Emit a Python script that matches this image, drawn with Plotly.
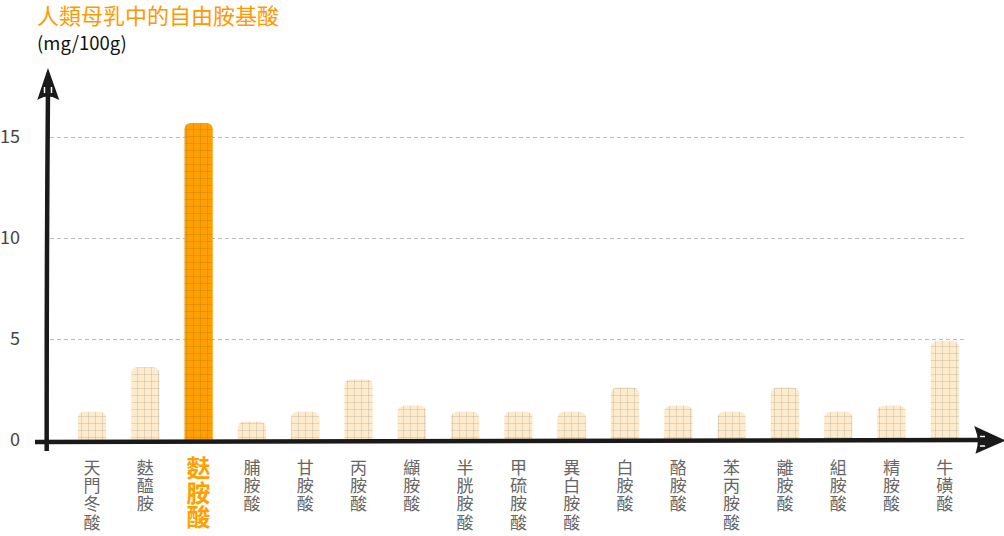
import plotly.graph_objects as go

# ---- data ----
categories = ["天門冬酸", "麩醯胺", "麩胺酸", "脯胺酸", "甘胺酸", "丙胺酸", "纈胺酸",
              "半胱胺酸", "甲硫胺酸", "異白胺酸", "白胺酸", "酪胺酸", "苯丙胺酸",
              "離胺酸", "組胺酸", "精胺酸", "牛磺酸"]
values = [1.4, 3.6, 15.7, 0.9, 1.4, 3.0, 1.7, 1.4, 1.4, 1.4, 2.6, 1.7, 1.4, 2.6, 1.4, 1.7, 4.9]
highlight = "麩胺酸"
y_ticks = [0, 5, 10, 15]
y_tick_labels = ["0", "5", "10", "15"]
title_text = "人類母乳中的自由胺基酸"
unit_text = "(mg/100g)"

OFF = 0  # page body margin removed via post_script
W, H = 1004, 536
ML, MR, MT, MB = 50, 39, 70, 91
PW, PH = W - ML - MR, H - MT - MB

ORANGE = "#FFA000"
LIGHT = "#FDEBCC"
FONT = "Noto Sans CJK TC"
XRANGE = [-0.788, 16.379]

def px(sx):
    return (sx - OFF - ML) / PW

def py(sy):
    return (H - MB - (sy - OFF)) / PH

idx = list(range(len(categories)))
hi = categories.index(highlight)
colors = [ORANGE if c == highlight else LIGHT for c in categories]
pat_fg = ["rgba(230,135,0,0.28)" if c == highlight else "rgba(245,215,165,0.09)" for c in categories]

def vertical(c, size, bold=False):
    parts = []
    for ch in c:
        t = f"<b>{ch}</b>" if bold else ch
        parts.append(f"<span style='font-size:{size}px'>{t}</span>")
    return "<br>".join(parts)

fig = go.Figure()
fig.add_trace(go.Bar(
    x=idx,
    y=values,
    marker=dict(color=colors, cornerradius=6, line=dict(width=0),
                pattern=dict(shape="+", fgcolor=pat_fg, size=7, solidity=0.08)),
    width=0.53,
    hoverinfo="skip",
))
# carrier for the highlighted-label axis
fig.add_trace(go.Scatter(x=[None], y=[None], xaxis="x2", showlegend=False, hoverinfo="skip"))

# hand-drawn axes
shapes = []
shapes.append(dict(type="path", xref="paper", yref="paper",
                   path=f"M {px(46.7)} {py(451)} Q {px(46.5)} {py(270)} {px(48)} {py(86)}",
                   line=dict(color="#1a1a1a", width=4.5)))
shapes.append(dict(type="path", xref="paper", yref="paper",
                   path=(f"M {px(48)} {py(71)} L {px(57.5)} {py(98)} Q {px(48)} {py(93)} {px(39)} {py(98)} Z"),
                   fillcolor="#1a1a1a", line=dict(color="#1a1a1a", width=2)))
for xx in (44.5, 51.5):
    shapes.append(dict(type="line", xref="paper", yref="paper",
                       x0=px(xx), y0=py(87), x1=px(xx), y1=py(93),
                       line=dict(color="white", width=1.5)))
shapes.append(dict(type="path", xref="paper", yref="paper",
                   path=f"M {px(35)} {py(442)} Q {px(500)} {py(441)} {px(980)} {py(440)}",
                   line=dict(color="#1a1a1a", width=4.5)))
shapes.append(dict(type="path", xref="paper", yref="paper",
                   path=(f"M {px(1003)} {py(440.5)} L {px(976)} {py(428)} Q {px(981)} {py(440)} {px(977)} {py(452)} Z"),
                   fillcolor="#1a1a1a", line=dict(color="#1a1a1a", width=2)))
for yy in (436.5, 446):
    shapes.append(dict(type="line", xref="paper", yref="paper",
                       x0=px(980), y0=py(yy), x1=px(985), y1=py(yy),
                       line=dict(color="white", width=1.5)))

annotations = [
    dict(text=title_text, xref="paper", yref="paper", x=px(35), y=py(-4),
         xanchor="left", yanchor="top", showarrow=False,
         font=dict(family=FONT, size=22, color="#FF9900")),
    dict(text=unit_text, xref="paper", yref="paper", x=px(35), y=py(27),
         xanchor="left", yanchor="top", showarrow=False,
         font=dict(family=FONT, size=18.5, color="#111111")),
]

fig.update_layout(
    width=W, height=H,
    margin=dict(l=ML, r=MR, t=MT, b=MB, pad=0),
    plot_bgcolor="white", paper_bgcolor="white",
    showlegend=False,
    shapes=shapes,
    annotations=annotations,
    font=dict(family=FONT),
    xaxis=dict(
        range=XRANGE, tickmode="array",
        tickvals=[i for i in idx if i != hi],
        ticktext=[vertical(c, 17) for c in categories if c != highlight],
        tickangle=0,
        tickfont=dict(family=FONT, size=14, color="#666666"),
        showgrid=False, zeroline=False, showline=False, ticks="",
        automargin=False, ticklabelstandoff=14,
    ),
    xaxis2=dict(
        overlaying="x", side="bottom", range=XRANGE, tickmode="array",
        tickvals=[hi], ticktext=[vertical(highlight, 24, bold=True)],
        tickangle=0,
        tickfont=dict(family=FONT, size=19, color=ORANGE),
        showgrid=False, zeroline=False, showline=False, ticks="",
        automargin=False, ticklabelstandoff=12,
    ),
    yaxis=dict(
        range=[-0.2475, 18.32], tickmode="array",
        tickvals=y_ticks, ticktext=y_tick_labels,
        tickfont=dict(family=FONT, size=18, color="#444444"),
        showgrid=True, gridcolor="#BBBBBB", gridwidth=1, griddash="4px,3px",
        zeroline=False, showline=False, ticks="",
        automargin=False, ticklabelstandoff=29,
    ),
)

fig.write_html("out.html",
               config={"displayModeBar": False},
               post_script="document.body.style.margin='0';document.body.style.padding='0';")
